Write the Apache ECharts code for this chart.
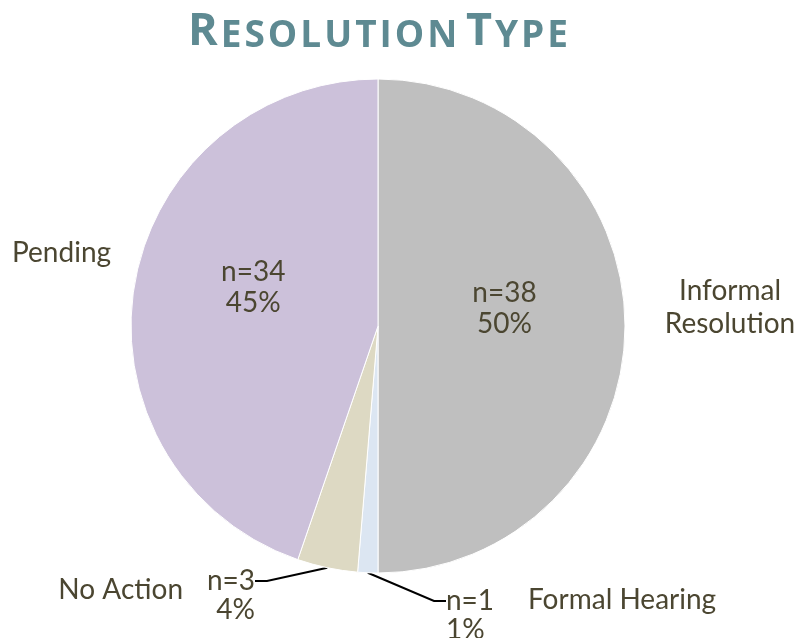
<!DOCTYPE html>
<html>
<head>
<meta charset="utf-8">
<script src="https://cdn.jsdelivr.net/npm/echarts@6/dist/echarts.min.js"></script>
<style>
html, body { margin: 0; padding: 0; background: #fff; }
#chart { width: 799px; height: 638px; }
</style>
</head>
<body>
<div id="chart"></div>
<script>
// data, clockwise from 12 o'clock
var categories = ['Informal Resolution', 'Formal Hearing', 'No Action', 'Pending'];
var counts = [38, 1, 3, 34];
var percents = [50, 1, 4, 45];
var nameLabels = ['Informal\nResolution', 'Formal Hearing', 'No Action', 'Pending'];
var colors = ['#bfbfbf', '#dce6f2', '#ddd9c3', '#ccc1da'];

var titleText = 'Resolution Type';
var textColor = '#4b4631';
var font = 'Lato';
var titleColor = '#5e8a92';

// small caps title: capital letters big, the rest as smaller capitals, a little tracking
function smallCaps(str) {
  return str.split('').map(function (ch) {
    if (ch === ' ') return '{sp| }';
    return (ch === ch.toUpperCase() ? '{b|' : '{s|') + ch.toUpperCase() + '}';
  }).join('');
}

var chart = echarts.init(document.getElementById('chart'));

var pieData = categories.map(function (c, i) {
  return { name: c, value: counts[i], itemStyle: { color: colors[i] } };
});

chart.setOption({
  animation: false,
  title: {
    text: smallCaps(titleText),
    left: 183,
    top: 5,
    textStyle: {
      rich: {
        b: { fontSize: 45, lineHeight: 45, fontWeight: 'bold', color: titleColor, fontFamily: 'Open Sans', verticalAlign: 'bottom', padding: [0, 3, 0, 0] },
        s: { fontSize: 37, lineHeight: 38, fontWeight: 'bold', color: titleColor, fontFamily: 'Open Sans', verticalAlign: 'bottom', padding: [0, 3, 0, 0] },
        sp: { fontSize: 20, lineHeight: 38, verticalAlign: 'bottom' }
      }
    }
  },
  series: [
    {
      // category names only
      type: 'pie',
      center: [378, 326],
      radius: 247,
      startAngle: 90,
      clockwise: true,
      silent: true,
      z: 1,
      itemStyle: { color: 'rgba(0,0,0,0)' },
      data: pieData.map(function (d) { return { name: d.name, value: d.value }; }),
      label: {
        show: true,
        position: 'outside',
        overflow: 'none',
        color: textColor,
        fontFamily: font,
        fontSize: 28,
        lineHeight: 33,
        formatter: function (p) { return nameLabels[p.dataIndex]; }
      },
      labelLine: { show: false },
      labelLayout: function (p) {
        switch (p.dataIndex) {
          case 0: return { x: 730, y: 307, align: 'center', verticalAlign: 'middle' };
          case 1: return { x: 528, y: 600, align: 'left', verticalAlign: 'middle' };
          case 2: return { x: 183, y: 590, align: 'right', verticalAlign: 'middle' };
          default: return { x: 12, y: 253, align: 'left', verticalAlign: 'middle' };
        }
      }
    },
    {
      type: 'pie',
      center: [378, 326],
      radius: 247,
      startAngle: 90,
      clockwise: true,
      z: 2,
      itemStyle: { borderColor: '#fff', borderWidth: 1 },
      emphasis: { disabled: true },
      data: pieData.map(function (d, i) {
        var small = counts[i] < 5;
        return {
          name: d.name,
          value: d.value,
          itemStyle: d.itemStyle,
          label: small ? { position: 'outside', lineHeight: 29 } : { position: 'inside' },
          labelLine: { show: small }
        };
      }),
      label: {
        show: true,
        overflow: 'none',
        color: textColor,
        fontFamily: font,
        fontSize: 28,
        lineHeight: 31,
        align: 'center',
        formatter: function (p) {
          var t = 'n=' + counts[p.dataIndex] + '\n' + percents[p.dataIndex] + '%';
          // blank first line so the leader line meets the "n=" line
          return counts[p.dataIndex] < 5 ? '\n' + t : t;
        }
      },
      labelLine: {
        length: 20,
        length2: 12,
        lineStyle: { color: '#000', width: 2 }
      },
      labelLayout: function (p) {
        if (p.dataIndex === 2) return { x: 255, y: 581, align: 'right', verticalAlign: 'middle' };
        if (p.dataIndex === 1) return { x: 446, y: 601, align: 'left', verticalAlign: 'middle' };
        return { dy: -18 };
      }
    }
  ]
});
</script>
</body>
</html>
